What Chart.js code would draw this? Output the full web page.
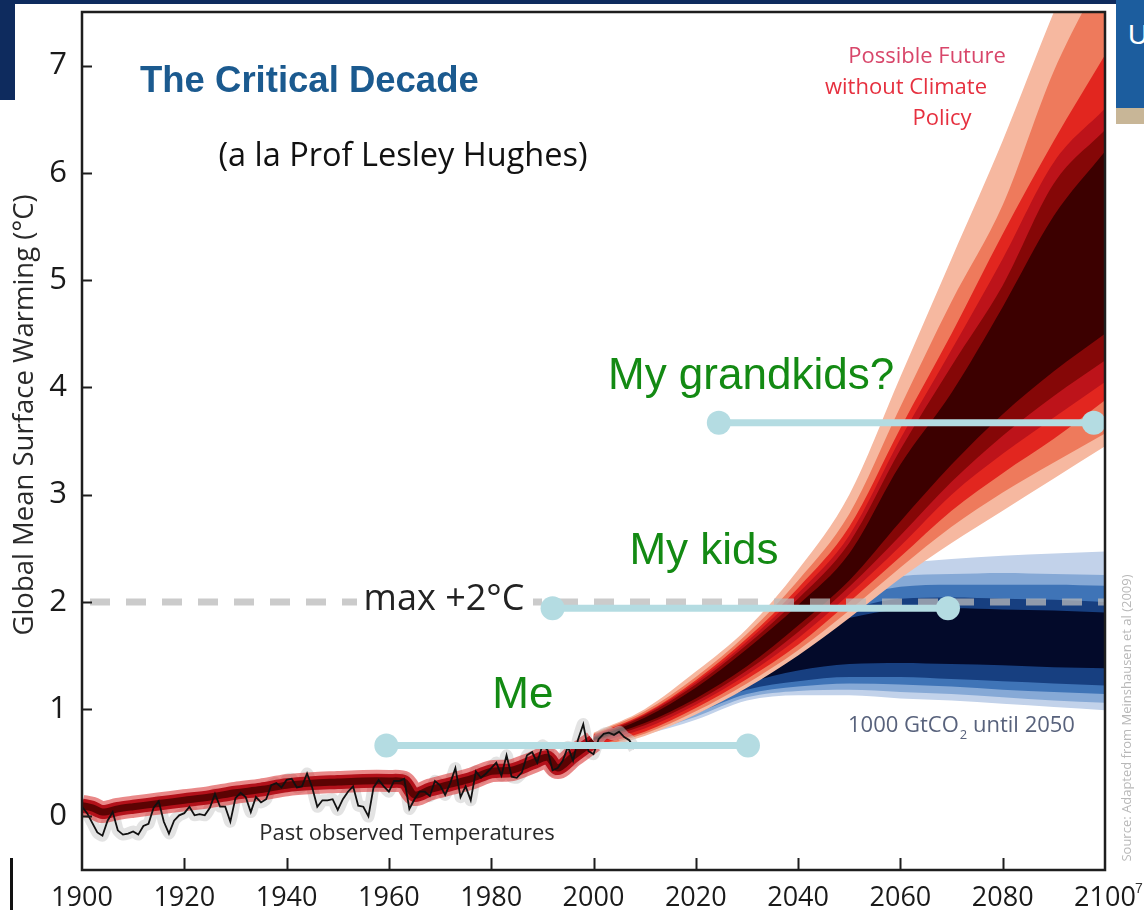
<!DOCTYPE html>
<html lang="en">
<head>
<meta charset="UTF-8">
<title>The Critical Decade</title>
<script src="https://cdn.jsdelivr.net/npm/chart.js"></script>
<style>
  html, body { margin: 0; padding: 0; background: #fff; }
  body { width: 1144px; height: 910px; position: relative; overflow: hidden; }
  #chart { position: absolute; left: 0; top: 0; }
  .deco { position: absolute; }
</style>
</head>
<body>
<canvas id="chart" width="1144" height="910"></canvas>
<div class="deco" style="left:0;top:0;width:1116px;height:4px;background:#0e2b5e"></div>
<div class="deco" style="left:0;top:0;width:15px;height:100px;background:#0e2b5e"></div>
<div class="deco" style="left:1116px;top:0;width:28px;height:108px;background:#1c5d9e;color:#fff;font:28px 'Liberation Sans',sans-serif;line-height:70px;padding-left:12px;box-sizing:border-box;overflow:hidden">U</div>
<div class="deco" style="left:1116px;top:108px;width:28px;height:16px;background:#c8b697"></div>
<div class="deco" style="left:10px;top:858px;width:3px;height:52px;background:#111"></div>
<script>
// observed global temperature (annual, from 1900)
const obsStartYear = 1900;
const observedTemps = [
  0.09, 0.03, -0.06, -0.15, -0.18, -0.04, 0.04, -0.13, -0.17, -0.16,
  -0.14, -0.17, -0.09, -0.07, 0.08, 0.14, -0.05, -0.16, -0.04, 0.01,
  0.03, 0.09, 0.01, 0.02, 0.01, 0.08, 0.21, 0.09, 0.09, -0.05,
  0.17, 0.22, 0.18, 0.04, 0.18, 0.13, 0.16, 0.29, 0.31, 0.27,
  0.34, 0.35, 0.27, 0.28, 0.40, 0.27, 0.09, 0.15, 0.15, 0.16,
  0.06, 0.16, 0.23, 0.28, 0.10, 0.09, 0.00, 0.27, 0.34, 0.28,
  0.23, 0.33, 0.33, 0.35, 0.07, 0.16, 0.23, 0.23, 0.19, 0.33,
  0.29, 0.20, 0.31, 0.45, 0.18, 0.28, 0.15, 0.42, 0.36, 0.40,
  0.45, 0.50, 0.38, 0.57, 0.37, 0.36, 0.41, 0.57, 0.60, 0.50,
  0.66, 0.62, 0.43, 0.45, 0.52, 0.65, 0.52, 0.72, 0.86, 0.61,
  0.58, 0.72, 0.77, 0.78, 0.76, 0.79, 0.74, 0.71, 0.63
];

// simulated past (model mean)
const modelYears = [1900, 1902, 1904, 1907, 1910, 1915, 1920, 1925, 1930, 1935, 1940, 1945, 1950, 1955, 1960, 1963, 1965, 1968, 1972, 1976, 1980, 1984, 1988, 1991, 1993, 1996, 2000];
const modelMean  = [0.10, 0.08, 0.04, 0.07, 0.09, 0.12, 0.15, 0.18, 0.22, 0.25, 0.29, 0.31, 0.32, 0.33, 0.33, 0.32, 0.20, 0.25, 0.30, 0.35, 0.42, 0.43, 0.50, 0.55, 0.45, 0.56, 0.70];

// projections, every 10 years
const fanYears = [2000, 2010, 2020, 2030, 2040, 2050, 2060, 2070, 2080, 2090, 2100];

// no climate policy (outer -> inner)
const redSalmonLow   = [0.62, 0.75, 0.95, 1.20, 1.50, 1.85, 2.22, 2.55, 2.85, 3.15, 3.45];
const redSalmonHigh  = [0.78, 1.00, 1.35, 1.75, 2.30, 3.00, 4.10, 5.20, 6.30, 7.50, 8.60];
const redOrangeLow   = [0.64, 0.77, 0.98, 1.24, 1.55, 1.92, 2.32, 2.70, 3.02, 3.30, 3.57];
const redOrangeHigh  = [0.77, 0.98, 1.30, 1.70, 2.20, 2.82, 3.82, 4.80, 5.70, 6.95, 7.90];
const redRedLow      = [0.66, 0.79, 1.01, 1.28, 1.60, 2.00, 2.42, 2.85, 3.20, 3.52, 3.88];
const redRedHigh     = [0.76, 0.96, 1.27, 1.66, 2.13, 2.70, 3.62, 4.50, 5.43, 6.30, 7.10];
const redCrimsonLow  = [0.68, 0.82, 1.04, 1.32, 1.66, 2.07, 2.52, 3.00, 3.38, 3.72, 4.05];
const redCrimsonHigh = [0.75, 0.95, 1.25, 1.63, 2.08, 2.62, 3.52, 4.35, 5.20, 6.10, 6.60];
const redDarkLow     = [0.70, 0.85, 1.07, 1.36, 1.72, 2.14, 2.62, 3.12, 3.55, 3.92, 4.25];
const redDarkHigh    = [0.74, 0.94, 1.23, 1.60, 2.03, 2.55, 3.42, 4.20, 4.95, 5.90, 6.40];
const redCoreLow     = [0.71, 0.87, 1.10, 1.40, 1.78, 2.20, 2.75, 3.28, 3.75, 4.15, 4.50];
const redCoreHigh    = [0.73, 0.92, 1.20, 1.56, 1.97, 2.45, 3.28, 3.95, 4.75, 5.60, 6.20];

// 1000 GtCO2 until 2050 (outer -> inner)
const bluePaleLow   = [0.65, 0.76, 0.90, 1.08, 1.13, 1.13, 1.10, 1.08, 1.05, 1.02, 0.99];
const bluePaleHigh  = [0.72, 0.95, 1.25, 1.60, 1.95, 2.20, 2.35, 2.40, 2.43, 2.45, 2.47];
const blueLightLow  = [0.66, 0.78, 0.93, 1.11, 1.17, 1.18, 1.16, 1.14, 1.11, 1.08, 1.06];
const blueLightHigh = [0.715, 0.93, 1.22, 1.56, 1.88, 2.10, 2.24, 2.26, 2.27, 2.26, 2.25];
const blueMidLow    = [0.67, 0.80, 0.96, 1.14, 1.21, 1.24, 1.23, 1.21, 1.18, 1.16, 1.14];
const blueMidHigh   = [0.71, 0.91, 1.19, 1.52, 1.82, 2.02, 2.14, 2.16, 2.16, 2.16, 2.15];
const blueDarkLow   = [0.68, 0.82, 0.99, 1.18, 1.26, 1.30, 1.30, 1.28, 1.26, 1.24, 1.22];
const blueDarkHigh  = [0.705, 0.90, 1.17, 1.48, 1.76, 1.93, 2.03, 2.04, 2.03, 2.02, 2.00];
const blueCoreLow   = [0.69, 0.85, 1.04, 1.24, 1.36, 1.42, 1.43, 1.42, 1.41, 1.39, 1.38];
const blueCoreHigh  = [0.70, 0.89, 1.15, 1.45, 1.70, 1.85, 1.93, 1.94, 1.93, 1.92, 1.90];

const limitLevel = 2;

// life spans
const ageNames = ['Me', 'My kids', 'My grandkids?'];
const ageFrom  = [1959.5, 1992, 2024.5];
const ageTo    = [2030.2, 2069.3, 2097.8];
const ageLevel = [0.66, 1.94, 3.67];

const yTicks = [0, 1, 2, 3, 4, 5, 6, 7];
const xTicks = [1900, 1920, 1940, 1960, 1980, 2000, 2020, 2040, 2060, 2080, 2100];

function pts(xs, ys) {
  return ys.map((v, i) => ({ x: xs[i], y: v }));
}

const datasets = [];

function addBand(lo, hi, color, order) {
  const base = { type: 'line', pointRadius: 0, borderWidth: 0, cubicInterpolationMode: 'monotone', clip: 0, order: order };
  datasets.push(Object.assign({}, base, { data: pts(fanYears, lo), fill: false }));
  datasets.push(Object.assign({}, base, { data: pts(fanYears, hi), fill: '-1', backgroundColor: color }));
}

// blue fan behind
addBand(bluePaleLow, bluePaleHigh, '#c2d2ea', 209);
addBand(blueLightLow, blueLightHigh, '#86a9d6', 208);
addBand(blueMidLow, blueMidHigh, '#3f74b7', 207);
addBand(blueDarkLow, blueDarkHigh, '#173f80', 206);
addBand(blueCoreLow, blueCoreHigh, '#030a2a', 205);

// red fan
addBand(redSalmonLow, redSalmonHigh, '#f6b8a0', 109);
addBand(redOrangeLow, redOrangeHigh, '#ee7a5c', 108);
addBand(redRedLow, redRedHigh, '#e2261f', 107);
addBand(redCrimsonLow, redCrimsonHigh, '#bd131a', 106);
addBand(redDarkLow, redDarkHigh, '#850707', 105);
addBand(redCoreLow, redCoreHigh, '#3c0000', 104);

const obsPts = observedTemps.map((v, i) => ({ x: obsStartYear + i, y: v }));
const modelPts = pts(modelYears, modelMean);

// observation uncertainty
datasets.push({ type: 'line', data: obsPts, borderColor: 'rgba(200,200,200,0.5)', borderWidth: 12, pointRadius: 0, fill: false, clip: 0, tension: 0.2, order: 80 });
// simulated past
datasets.push({ type: 'line', data: modelPts, borderColor: 'rgba(215,40,40,0.55)', borderWidth: 22, pointRadius: 0, fill: false, clip: 0, tension: 0.3, order: 72 });
datasets.push({ type: 'line', data: modelPts, borderColor: '#b3111a', borderWidth: 14, pointRadius: 0, fill: false, clip: 0, tension: 0.3, order: 71 });
datasets.push({ type: 'line', data: modelPts, borderColor: '#5c0303', borderWidth: 7, pointRadius: 0, fill: false, clip: 0, tension: 0.3, order: 70 });
// observed
datasets.push({ type: 'line', data: obsPts, borderColor: '#111', borderWidth: 1.8, pointRadius: 0, fill: false, clip: 0, tension: 0, order: 60 });

// +2 degree limit
datasets.push({ type: 'line', data: [{ x: 1900, y: limitLevel }, { x: 2100, y: limitLevel }], borderColor: 'rgba(185,185,185,0.75)', borderWidth: 7, borderDash: [20, 16], borderDashOffset: -8, pointRadius: 0, fill: false, order: 30 });

// life spans
ageNames.forEach((name, i) => {
  datasets.push({
    type: 'line', label: name,
    data: [{ x: ageFrom[i], y: ageLevel[i] }, { x: ageTo[i], y: ageLevel[i] }],
    borderColor: '#b4dce2', borderWidth: 7, pointRadius: 12, pointBackgroundColor: '#b4dce2', pointBorderWidth: 0,
    fill: false, order: 10
  });
});

const overlay = {
  id: 'overlay',
  afterDatasetsDraw(chart) {
    const { ctx, chartArea: a, scales: { x, y } } = chart;
    ctx.save();

    // frame and inward ticks
    ctx.strokeStyle = '#1e1e1e';
    ctx.lineWidth = 2.5;
    ctx.strokeRect(a.left, a.top, a.right - a.left, a.bottom - a.top);
    ctx.beginPath();
    y.ticks.forEach(t => {
      if (t.value <= y.min || t.value >= y.max) return;
      const py = Math.round(y.getPixelForValue(t.value)) + 0.5;
      ctx.moveTo(a.left, py); ctx.lineTo(a.left + 10, py);
    });
    x.ticks.forEach(t => {
      if (t.value <= x.min || t.value >= x.max) return;
      const px = Math.round(x.getPixelForValue(t.value)) + 0.5;
      ctx.moveTo(px, a.bottom); ctx.lineTo(px, a.bottom - 12);
    });
    ctx.lineWidth = 2;
    ctx.stroke();

    ctx.textAlign = 'center';
    ctx.textBaseline = 'middle';

    // +2 label
    ctx.fillStyle = '#fff';
    ctx.fillRect(357, 584, 176, 34);
    ctx.fillStyle = '#222';
    ctx.font = "36px 'Open Sans', sans-serif";
    ctx.fillText('max +2\u00B0C', 444, 600);

    // life-span labels
    const labelAt = [[1986.2, 1.12], [2021.6, 2.47], [2030.8, 4.1]];
    ctx.fillStyle = '#138a13';
    ctx.font = "44px 'Liberation Sans', Arial, sans-serif";
    ageNames.forEach((name, i) => {
      ctx.fillText(name, x.getPixelForValue(labelAt[i][0]), y.getPixelForValue(labelAt[i][1]));
    });

    // headings
    ctx.textAlign = 'left';
    ctx.fillStyle = '#1b5a8f';
    ctx.font = "bold 36.5px 'Liberation Sans', Arial, sans-serif";
    ctx.fillText('The Critical Decade', 140, 82);

    ctx.textAlign = 'center';
    ctx.fillStyle = '#111';
    ctx.font = "32.5px 'Open Sans', sans-serif";
    ctx.fillText('(a la Prof Lesley Hughes)', 403, 157);

    ctx.font = "22px 'Open Sans', sans-serif";
    ctx.fillStyle = '#d8466a';
    ctx.fillText('Possible Future', 927, 57);
    ctx.fillStyle = '#e6303f';
    ctx.fillText('without Climate', 906, 88);
    ctx.fillText('Policy', 942, 119);

    ctx.fillStyle = '#2a2a2a';
    ctx.font = "22px 'Open Sans', sans-serif";
    ctx.fillText('Past observed Temperatures', 407, 834);

    // scenario label with subscript
    ctx.textAlign = 'left';
    ctx.fillStyle = '#58627c';
    ctx.font = "22px 'Open Sans', sans-serif";
    let tx = 848;
    const p1 = '1000 GtCO';
    ctx.fillText(p1, tx, 726);
    tx += ctx.measureText(p1).width;
    ctx.font = "13px 'Open Sans', sans-serif";
    ctx.fillText('2', tx + 1, 735);
    tx += ctx.measureText('2').width + 1;
    ctx.font = "22px 'Open Sans', sans-serif";
    ctx.fillText(' until 2050', tx, 726);

    // axis title
    ctx.textAlign = 'center';
    ctx.save();
    ctx.translate(25, 415);
    ctx.rotate(-Math.PI / 2);
    ctx.fillStyle = '#2a2a2a';
    ctx.font = "27.5px 'Open Sans', sans-serif";
    ctx.fillText('Global Mean Surface Warming (\u00B0C)', 0, 0);
    ctx.restore();

    // source note
    ctx.save();
    ctx.translate(1127, 718);
    ctx.rotate(-Math.PI / 2);
    ctx.fillStyle = '#b8b8b8';
    ctx.font = "13px 'Open Sans', sans-serif";
    ctx.fillText('Source: Adapted from Meinshausen et al (2009)', 0, 0);
    ctx.restore();

    ctx.fillStyle = '#333';
    ctx.font = "14px 'Liberation Sans', sans-serif";
    ctx.fillText('7', 1139, 889);

    ctx.restore();
  }
};

new Chart(document.getElementById('chart'), {
  type: 'line',
  data: { datasets: datasets },
  options: {
    responsive: false,
    animation: false,
    events: [],
    layout: { padding: { left: 0, right: 39, top: 12, bottom: 0 } },
    plugins: { legend: { display: false }, tooltip: { enabled: false } },
    scales: {
      x: {
        type: 'linear', min: 1900, max: 2100,
        grid: { display: false }, border: { display: false },
        afterBuildTicks: s => { s.ticks = xTicks.map(v => ({ value: v })); },
        ticks: {
          autoSkip: false, maxRotation: 0, padding: 4, color: '#1a1a1a',
          font: { family: "'Open Sans', sans-serif", size: 27 },
          callback: v => String(v)
        },
        afterFit: s => { s.height = 40; s.paddingLeft = 0; s.paddingRight = 0; }
      },
      y: {
        type: 'linear', min: -0.5, max: 7.5,
        grid: { display: false }, border: { display: false },
        ticks: {
          stepSize: 0.5, autoSkip: false, padding: 7, color: '#1a1a1a',
          font: { family: "'Open Sans', sans-serif", size: 31 },
          callback: v => (yTicks.includes(v) ? String(v) : null)
        },
        afterFit: s => { s.width = 82; s.paddingTop = 0; s.paddingBottom = 0; }
      }
    }
  },
  plugins: [overlay]
});
</script>
</body>
</html>
